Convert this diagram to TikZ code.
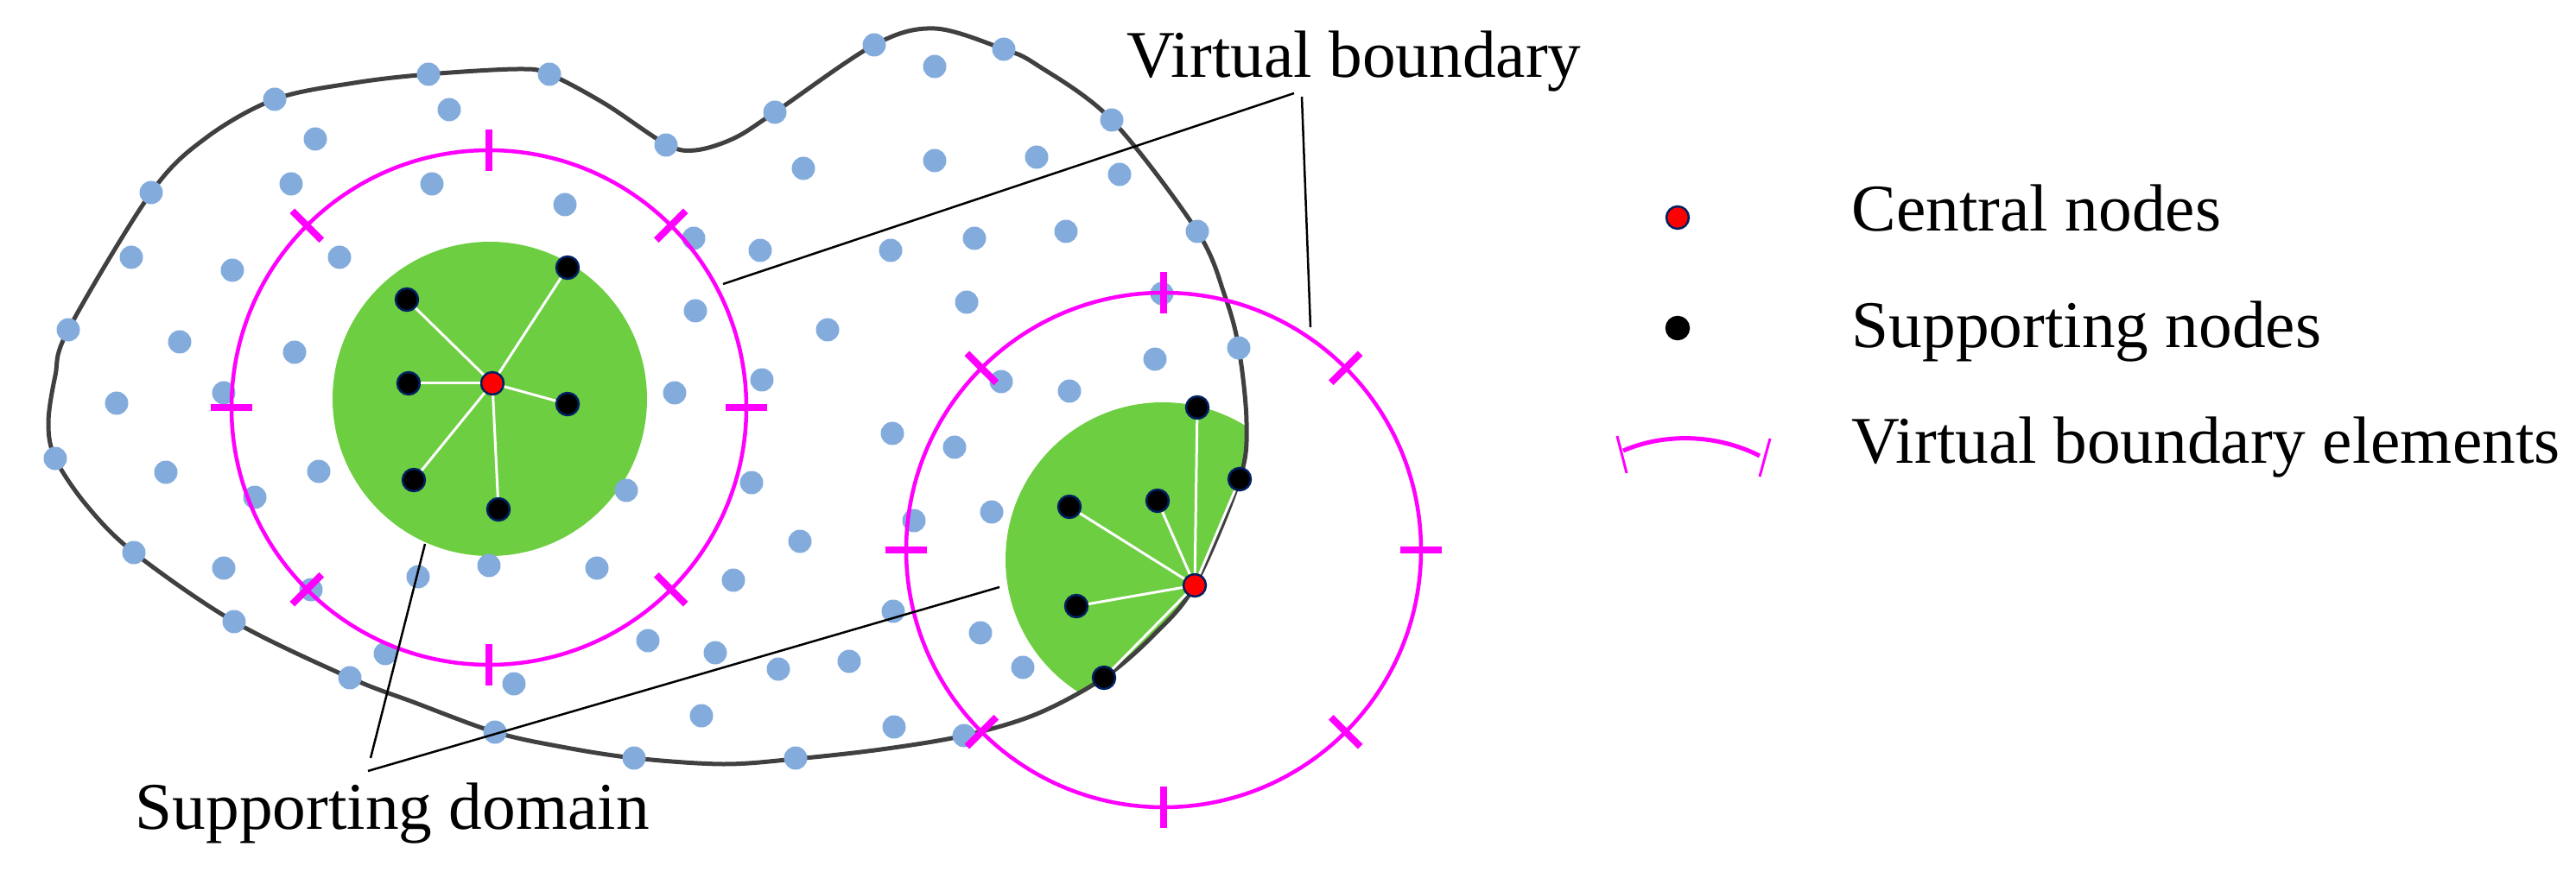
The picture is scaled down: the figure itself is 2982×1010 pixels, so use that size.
\documentclass[tikz,border=0pt]{standalone}
\usepackage{fontspec}
\setmainfont{Liberation Serif}
\usetikzlibrary{calc}
\definecolor{dotblue}{RGB}{131,172,221}
\definecolor{dgreen}{RGB}{110,206,66}
\definecolor{mag}{RGB}{255,0,255}
\definecolor{curvegray}{RGB}{64,64,64}
\definecolor{navyline}{RGB}{0,32,96}
\newcommand\bndpath{plot[smooth cycle,tension=0.55] coordinates {(318,115) (410,96) (496,86) (600,80) (636,86) (700,120) (771,167) (805,174) (850,160) (897,130) (1012,52) (1082,33) (1162,57) (1200,75) (1287,139) (1386,268) (1418,343) (1434,403) (1443,490) (1435,555) (1383,678) (1336,735) (1278,785) (1200,827) (1116,852) (1020,868) (921,879) (837,885) (734,878) (650,865) (573,848) (478,813) (405,785) (271,720) (155,640) (100,585) (64,531) (56,490) (64,435) (79,382) (175,223) (238,160)}}
\begin{document}
\begin{tikzpicture}[x=0.1mm,y=-0.1mm,
  boundary/.style={draw=curvegray,line width=0.5mm},
  vcircle/.style={draw=mag,line width=0.45mm},
  vtick/.style={draw=mag,line width=0.8mm},
  spoke/.style={draw=white,line width=0.3mm},
  bdot/.style={fill=dotblue},
  snode/.style={circle,fill=black,draw=navyline,line width=0.25mm,minimum size=2.6mm,inner sep=0pt},
  cnode/.style={circle,fill=red,draw=navyline,line width=0.25mm,minimum size=2.6mm,inner sep=0pt},
  leader/.style={draw=black,line width=0.25mm},
  lbl/.style={font=\fontsize{22}{26}\selectfont,inner sep=0pt,anchor=base west}]

\useasboundingbox (0,0) rectangle (2982,1010);

% supporting domains (green)
\fill[dgreen] (567,462) circle[radius=18.2mm];
\begin{scope}
  \clip \bndpath;
  \fill[dgreen] (1346,648) circle[radius=18.2mm];
\end{scope}

% problem boundary
\draw[boundary] \bndpath;

% field nodes (blue)
\foreach \p in {(318,115),(496,86),(175,223),(79,382),(64,531),(155,640),(271,720),(405,785),(573,848),
  (520,127),(365,161),(337,213),(500,213),(152,298),(269,313),(393,298),(208,396),(341,408),(135,467),(259,455),
  (192,547),(369,546),(295,576),(259,658),(360,683),(484,668),(566,655),(446,757),(595,792),
  (636,86),(771,168),(897,130),(1012,52),(1162,57),
  (1082,77),(930,195),(1082,186),(1200,182),(654,237),(803,276),(880,290),(1031,290),(1128,276),(1119,350),
  (958,382),(805,360),(882,440),(781,455),(1159,442),(1033,502),
  (725,568),(870,559),(691,658),(926,627),(849,672),(1058,603),(1148,593),(1034,708),(1135,733),(1184,773),
  (750,742),(828,756),(901,775),(983,766),(812,829),(1035,842),(1105,518),
  (1116,852),(921,878),(734,878),
  (1287,139),(1386,268),(1434,403),
  (1296,202),(1234,268),(1345,340),(1337,416),(1238,453)}
  \fill[bdot] \p circle[radius=1.35mm];

% left star
\node[cnode] (cL) at (570,444) {};
\node[snode] (sL1) at (471,347) {};
\node[snode] (sL2) at (473,444) {};
\node[snode] (sL3) at (657,310) {};
\node[snode] (sL4) at (657,468) {};
\node[snode] (sL5) at (479,556) {};
\node[snode] (sL6) at (577,590) {};
\foreach \s in {sL1,sL2,sL3,sL4,sL5,sL6} \draw[spoke] (cL) -- (\s);

% right star
\node[cnode] (cR) at (1383,678) {};
\node[snode] (sR1) at (1386,472) {};
\node[snode] (sR2) at (1435,555) {};
\node[snode] (sR3) at (1238,587) {};
\node[snode] (sR4) at (1340,580) {};
\node[snode] (sR5) at (1246,702) {};
\node[snode] (sR6) at (1278,785) {};
\foreach \s in {sR1,sR2,sR3,sR4,sR5,sR6} \draw[spoke] (cR) -- (\s);

% virtual boundaries
\coordinate (VL) at (566,472);
\coordinate (VR) at (1347,637);
\foreach \c in {VL,VR}{
  \draw[vcircle] (\c) circle[radius=29.8mm];
  \foreach \a in {0,45,...,315}
    \draw[vtick] ($(\c)+(\a:27.4mm)$) -- ($(\c)+(\a:32.2mm)$);
}

% leaders
\coordinate (vbA) at (837,329);
\coordinate (vbB) at (1498,108);
\coordinate (vbC) at (1507,112);
\coordinate (vbD) at (1517,379);
\draw[leader] (vbA) -- (vbB);
\draw[leader] (vbC) -- (vbD);
\coordinate (sdA) at (492,630);
\coordinate (sdB) at (429,878);
\coordinate (sdC) at (426,893);
\coordinate (sdD) at (1157,680);
\draw[leader] (sdA) -- (sdB);
\draw[leader] (sdC) -- (sdD);

\node[lbl] (tvb) at (1304,90) {Virtual boundary};
\node[lbl] (tsd) at (156,960) {Supporting domain};

% legend
\node[cnode] (lc) at (1942,252) {};
\node[snode,draw=black] (ls) at (1942,380) {};
\coordinate (la) at (1879,522);
\coordinate (lb) at (2037,528);
\coordinate (la1) at (1872,505);
\coordinate (la2) at (1883,548);
\coordinate (lb1) at (2049,508);
\coordinate (lb2) at (2037,552);
\draw[draw=mag,line width=0.5mm] (la) .. controls (1928,501) and (1988,503) .. (lb);
\draw[draw=mag,line width=0.3mm] (la1) -- (la2);
\draw[draw=mag,line width=0.3mm] (lb1) -- (lb2);
\node[lbl] (tc) at (2143,268) {Central nodes};
\node[lbl] (ts) at (2143,403) {Supporting nodes};
\node[lbl] (te) at (2143,537) {Virtual boundary elements};
\end{tikzpicture}
\end{document}
